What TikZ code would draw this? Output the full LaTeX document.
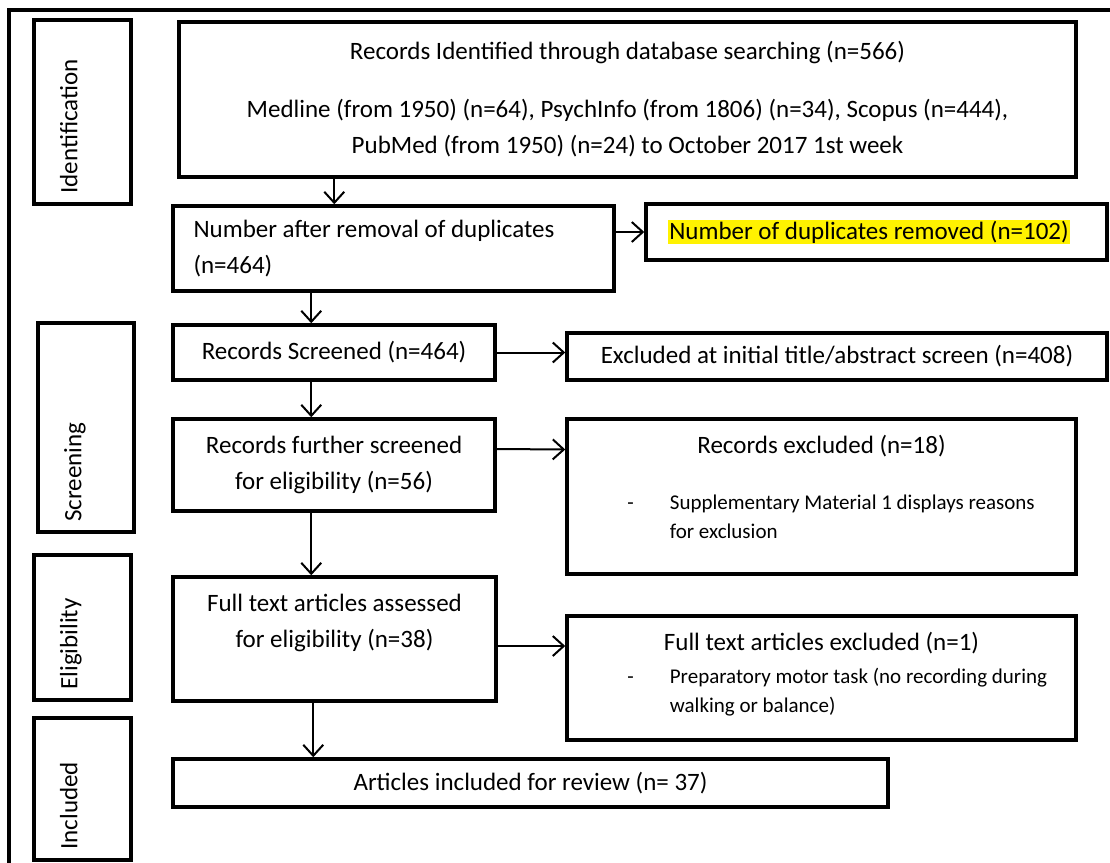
\documentclass[tikz,border=0pt]{standalone}
\usepackage{fontspec}
\setmainfont{Carlito}
\usepackage{tikz}
\usetikzlibrary{arrows.meta}

\begin{document}
\begin{tikzpicture}[x=1pt, y=-1pt, >={Straight Barb[length=11pt,width=20pt]},
  box/.style={draw, line width=3.5pt, inner sep=0pt, align=center, font=\fontsize{25}{36}\selectfont},
  phase/.style={inner sep=0pt, rotate=90, anchor=base west, font=\fontsize{25}{30}\selectfont},
  title/.style={inner sep=0pt, font=\fontsize{25}{30}\selectfont},
  note/.style={inner sep=0pt, anchor=north west, font=\fontsize{21}{29}\selectfont},
  arr/.style={->, line width=2pt}]

\useasboundingbox (0,0) rectangle (1110,862);
\clip (0,0) rectangle (1110,862);

% outer frame
\draw[line width=3.5pt] (9,10) rectangle (1130,890);

% phase labels
\node[box, minimum width=97pt, minimum height=184pt] (identbox) at (82.5,112) {};
\node[phase] (ident) at ([xshift=45pt,yshift=12pt]identbox.south west) {Identification};
\node[box, minimum width=96pt, minimum height=209pt] (screenbox) at (86,427.5) {};
\node[phase] (screen) at ([xshift=45pt,yshift=12pt]screenbox.south west) {Screening};
\node[box, minimum width=97pt, minimum height=145pt] (eligbox) at (82.5,627.5) {};
\node[phase] (elig) at ([xshift=45pt,yshift=12pt]eligbox.south west) {Eligibility};
\node[box, minimum width=97pt, minimum height=142pt] (inclbox) at (82.5,789) {};
\node[phase] (incl) at ([xshift=45pt,yshift=12pt]inclbox.south west) {Included};

% main column
\node[box, minimum width=897pt, minimum height=155pt] (search) at (627.5,99.5)
  {Records Identified through database searching (n=566)\\[22pt]
   Medline (from 1950) (n=64), PsychInfo (from 1806) (n=34), Scopus (n=444),\\
   PubMed (from 1950) (n=24) to October 2017 1st week};
\node[box, minimum width=441pt, minimum height=85pt, text width=400pt, align=flush left] (nodup) at (393.5,248.5)
  {Number after removal of duplicates\\(n=464)};
\node[box, minimum width=322pt, minimum height=55pt] (screened) at (334,352.5) {Records Screened (n=464)};
\node[box, minimum width=322pt, minimum height=92pt] (further) at (334,465)
  {Records further screened\\for eligibility (n=56)};
\node[box, minimum width=323pt, minimum height=124pt] (fulltext) at (334.5,639)
  {Full text articles assessed\\for eligibility (n=38)\\[1pt]};
\node[box, minimum width=715pt, minimum height=48pt] (included) at (530.5,783) {Articles included for review (n= 37)};

% side boxes
\setlength{\fboxsep}{1pt}
\node[box, minimum width=461pt, minimum height=56pt] (dupl) at (876.5,232)
  {\colorbox{yellow}{Number of duplicates removed (n=102)}\hspace*{15pt}};
\node[box, minimum width=540pt, minimum height=47pt] (excl1) at (837,356.5)
  {Excluded at initial title/abstract screen (n=408)};
\node[box, minimum width=509pt, minimum height=155pt] (excl2) at (821.5,496.5) {};
\node[title] (excl2a) at ([yshift=-29pt]excl2.north) {Records excluded (n=18)};
\node[note] (excl2b) at ([xshift=62pt,yshift=-72pt]excl2.north west)
  {\begin{tabular}{@{}l@{\hspace{36pt}}l@{}}
   - & Supplementary Material 1 displays reasons\\
     & for exclusion
   \end{tabular}};
\node[box, minimum width=509pt, minimum height=124pt] (excl3) at (821.5,678) {};
\node[title] (excl3a) at ([yshift=-29pt]excl3.north) {Full text articles excluded (n=1)};
\node[note] (excl3b) at ([xshift=62pt,yshift=-49pt]excl3.north west)
  {\begin{tabular}{@{}l@{\hspace{36pt}}l@{}}
   - & Preparatory motor task (no recording during\\
     & walking or balance)
   \end{tabular}};

% arrows
\draw[arr] ([xshift=157pt]search.south west) -- ([xshift=163pt]nodup.north west);
\draw[arr] ([xshift=140pt]nodup.south west) -- ([xshift=140pt]screened.north west);
\draw[arr] ([xshift=140pt]screened.south west) -- ([xshift=140pt]further.north west);
\draw[arr] ([xshift=140pt]further.south west) -- ([xshift=140pt]fulltext.north west);
\draw[arr] ([xshift=142pt]fulltext.south west) -- ([xshift=142pt]included.north west);
\draw[arr] (nodup.east |- dupl.west) -- (dupl.west);
\draw[arr] (screened.east) -- (excl1.west |- screened.east);
\draw[arr] ([yshift=16pt]further.east) -- ([yshift=47pt]excl2.west);
\draw[arr] ([yshift=-7pt]fulltext.east) -- ([yshift=32pt]excl3.west);

\end{tikzpicture}
\end{document}
